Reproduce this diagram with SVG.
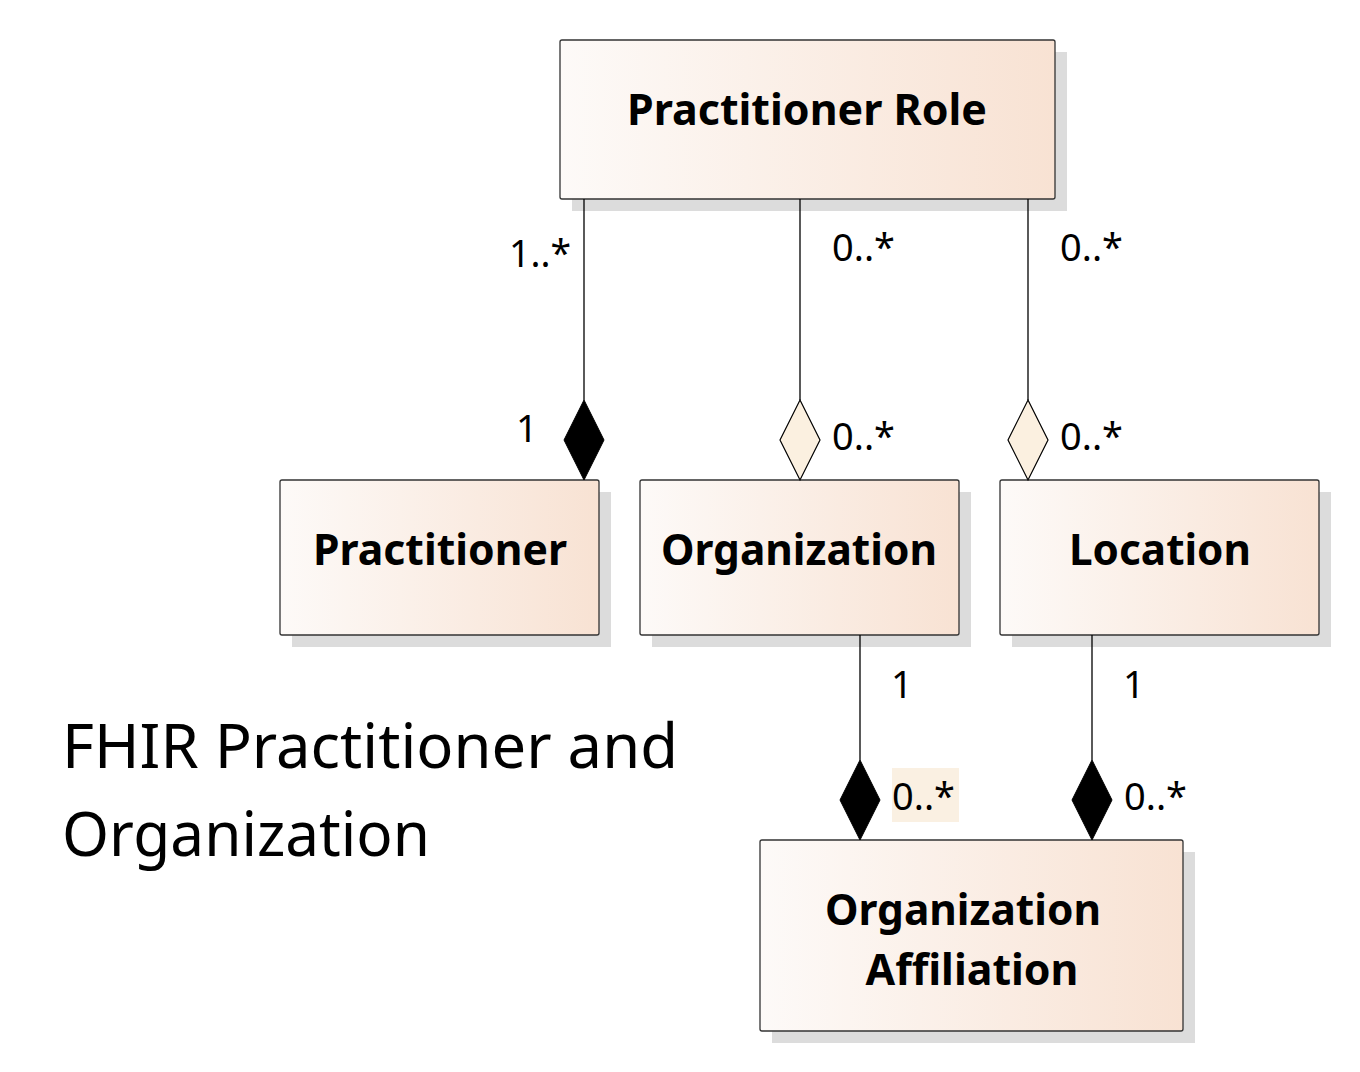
<svg xmlns="http://www.w3.org/2000/svg" width="1360" height="1072" viewBox="0 0 1360 1072">
<defs>
<linearGradient id="g" x1="0" y1="0" x2="1" y2="0">
<stop offset="0" stop-color="#fdfaf8"/>
<stop offset="1" stop-color="#f8e2d3"/>
</linearGradient>
<style>
.sh{fill:#dcdcdc}
.box{fill:url(#g);stroke:#333;stroke-width:1.3}
.nm{font-family:"Noto Sans","Open Sans",sans-serif;font-weight:bold;font-size:43px;fill:#000;text-anchor:middle}
.lb{font-family:"Noto Sans","Open Sans",sans-serif;font-size:38px;fill:#000}
.ln{stroke:#000;stroke-width:1.3;fill:none}
.fd{fill:#000;stroke:#000;stroke-width:1}
.hd{fill:#fbf0e0;stroke:#000;stroke-width:1.2}
.ti{font-family:"Noto Sans","Open Sans",sans-serif;font-size:62px;fill:#000}
</style>
</defs>
<rect width="1360" height="1072" fill="#fff"/>
<g id="node-practitioner-role">
<rect class="sh" x="572" y="52" width="495" height="159"/>
<rect class="box" x="560" y="40" width="495" height="159" rx="2"/>
<text class="nm" x="807" y="125" textLength="360" lengthAdjust="spacingAndGlyphs">Practitioner Role</text>
</g>
<g id="node-practitioner">
<rect class="sh" x="292" y="492" width="319" height="155"/>
<rect class="box" x="280" y="480" width="319" height="155" rx="2"/>
<text class="nm" x="440" y="565" textLength="254" lengthAdjust="spacingAndGlyphs">Practitioner</text>
</g>
<g id="node-organization">
<rect class="sh" x="652" y="492" width="319" height="155"/>
<rect class="box" x="640" y="480" width="319" height="155" rx="2"/>
<text class="nm" x="799" y="565" textLength="276" lengthAdjust="spacingAndGlyphs">Organization</text>
</g>
<g id="node-location">
<rect class="sh" x="1012" y="492" width="319" height="155"/>
<rect class="box" x="1000" y="480" width="319" height="155" rx="2"/>
<text class="nm" x="1160" y="565" textLength="182" lengthAdjust="spacingAndGlyphs">Location</text>
</g>
<g id="node-organization-affiliation">
<rect class="sh" x="772" y="852" width="423" height="191"/>
<rect class="box" x="760" y="840" width="423" height="191" rx="2"/>
<text class="nm" x="963" y="925" textLength="276" lengthAdjust="spacingAndGlyphs">Organization</text>
<text class="nm" x="972" y="985" textLength="213" lengthAdjust="spacingAndGlyphs">Affiliation</text>
</g>
<g id="connectors">
<line class="ln" x1="584" y1="199" x2="584" y2="400"/>
<polygon class="fd" points="584,400 604,440 584,480 564,440"/>
<line class="ln" x1="800" y1="199" x2="800" y2="400"/>
<polygon class="hd" points="800,400 820,440 800,480 780,440"/>
<line class="ln" x1="1028" y1="199" x2="1028" y2="400"/>
<polygon class="hd" points="1028,400 1048,440 1028,480 1008,440"/>
<line class="ln" x1="860" y1="635" x2="860" y2="760"/>
<polygon class="fd" points="860,760 880,800 860,840 840,800"/>
<line class="ln" x1="1092" y1="635" x2="1092" y2="760"/>
<polygon class="fd" points="1092,760 1112,800 1092,840 1072,800"/>
</g>
<g id="labels">
<text class="lb" x="509" y="267" textLength="62" lengthAdjust="spacingAndGlyphs">1..*</text>
<text class="lb" x="832" y="261" textLength="63" lengthAdjust="spacingAndGlyphs">0..*</text>
<text class="lb" x="1060" y="261" textLength="63" lengthAdjust="spacingAndGlyphs">0..*</text>
<text class="lb" x="516" y="442">1</text>
<text class="lb" x="832" y="450" textLength="63" lengthAdjust="spacingAndGlyphs">0..*</text>
<text class="lb" x="1060" y="450" textLength="63" lengthAdjust="spacingAndGlyphs">0..*</text>
<text class="lb" x="891" y="698">1</text>
<text class="lb" x="1123" y="698">1</text>
<rect x="892" y="768" width="67" height="54" fill="#faf0e2"/>
<text class="lb" x="892" y="810" textLength="63" lengthAdjust="spacingAndGlyphs">0..*</text>
<text class="lb" x="1124" y="810" textLength="63" lengthAdjust="spacingAndGlyphs">0..*</text>
</g>
<g id="title">
<text class="ti" x="62" y="768" textLength="616" lengthAdjust="spacingAndGlyphs">FHIR Practitioner and</text>
<text class="ti" x="62" y="856" textLength="368" lengthAdjust="spacingAndGlyphs">Organization</text>
</g>
</svg>
